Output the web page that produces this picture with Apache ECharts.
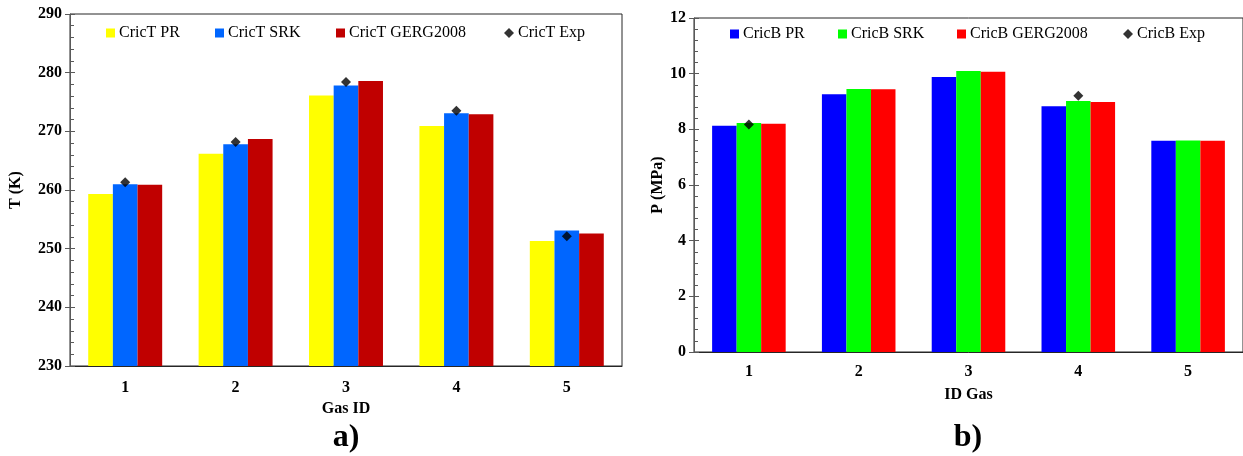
<!DOCTYPE html>
<html>
<head>
<meta charset="utf-8">
<script src="https://cdn.jsdelivr.net/npm/echarts@6/dist/echarts.min.js"></script>
<style>
html,body{margin:0;padding:0;background:#fff;}
#chart{width:1243px;height:456px;}
</style>
</head>
<body>
<div id="chart"></div>
<script>
var categories = ['1', '2', '3', '4', '5'];
var tPR   = [259.3, 266.2, 276.1, 270.9, 251.3];
var tSRK  = [261.0, 267.8, 277.8, 273.1, 253.1];
var tGERG = [260.9, 268.7, 278.6, 272.9, 252.6];
var tExp  = [261.3, 268.2, 278.4, 273.5, 252.1];
var pPR   = [8.13, 9.26, 9.88, 8.83, 7.59];
var pSRK  = [8.23, 9.45, 10.10, 9.02, 7.60];
var pGERG = [8.20, 9.44, 10.07, 8.98, 7.59];
var pExp  = [8.17, null, null, 9.21, null];

var FONT = '"Liberation Serif", "Times New Roman", serif';
var chart = echarts.init(document.getElementById('chart'));

function legendItem(name, left, top, icon) {
  return {
    data: [{name: name, icon: icon}],
    left: left, top: top, padding: 0,
    itemWidth: icon === 'diamond' ? 10 : 9, itemHeight: icon === 'diamond' ? 10 : 9, itemGap: 0,
    textStyle: {fontFamily: FONT, fontSize: 16, color: '#000', padding: [0, 0, 0, -1]},
    selectedMode: false
  };
}

function yAxisMain(gi, min, max, interval, name, nameGap) {
  return {
    type: 'value', gridIndex: gi, min: min, max: max, interval: interval, position: 'left',
    name: name, nameLocation: 'middle', nameGap: nameGap,
    nameTextStyle: {fontFamily: FONT, fontSize: 16, fontWeight: 'bold', color: '#000'},
    axisLine: {show: true, lineStyle: {color: '#595959', width: 1}},
    axisTick: {show: true, inside: true, length: 5, lineStyle: {color: '#595959'}},
    minorTick: {show: true, splitNumber: 5, length: 4, lineStyle: {color: '#595959'}},
    splitLine: {show: false},
    axisLabel: {fontFamily: FONT, fontSize: 16, fontWeight: 'bold', color: '#000', margin: 8}
  };
}
function yAxisOuter(gi, min, max, interval) {
  return {
    type: 'value', gridIndex: gi, min: min, max: max, interval: interval, position: 'left', offset: 0,
    axisLine: {show: false},
    axisTick: {show: true, inside: false, length: 5, lineStyle: {color: '#595959'}},
    splitLine: {show: false},
    axisLabel: {show: false}
  };
}
function xAxis(gi, name, nameGap, margin) {
  return {
    type: 'category', gridIndex: gi, data: categories,
    name: name, nameLocation: 'middle', nameGap: nameGap,
    nameTextStyle: {fontFamily: FONT, fontSize: 16, fontWeight: 'bold', color: '#000'},
    axisLine: {show: true, lineStyle: {color: '#262626', width: 1}},
    axisTick: {show: false},
    axisLabel: {fontFamily: FONT, fontSize: 16, fontWeight: 'bold', color: '#000', margin: margin}
  };
}
function bar(name, data, color, xi, yi) {
  return {
    name: name, type: 'bar', data: data, xAxisIndex: xi, yAxisIndex: yi,
    barGap: '0%', barCategoryGap: '33%',
    itemStyle: {color: color}
  };
}
function exp(name, data, xi, yi) {
  return {
    name: name, type: 'scatter', data: data, xAxisIndex: xi, yAxisIndex: yi,
    symbol: 'diamond', symbolSize: 10, itemStyle: {color: '#000'}, z: 5
  };
}

chart.setOption({
  animation: false,
  backgroundColor: '#fff',
  grid: [
    {left: 70, top: 14, width: 552, height: 352, show: true, borderColor: '#262626', borderWidth: 1, backgroundColor: 'transparent'},
    {left: 694, top: 18, width: 551, height: 334, show: true, borderColor: '#262626', borderWidth: 1, backgroundColor: 'transparent'}
  ],
  legend: [
    legendItem('CricT PR', 106, 25, 'rect'),
    legendItem('CricT SRK', 215, 25, 'rect'),
    legendItem('CricT GERG2008', 336, 25, 'rect'),
    legendItem('CricT Exp', 504, 25, 'diamond'),
    legendItem('CricB PR', 730, 26, 'rect'),
    legendItem('CricB SRK', 838, 26, 'rect'),
    legendItem('CricB GERG2008', 957, 26, 'rect'),
    legendItem('CricB Exp', 1123, 26, 'diamond')
  ],
  xAxis: [xAxis(0, 'Gas ID', 31, 14), xAxis(1, 'ID Gas', 35, 12)],
  yAxis: [
    yAxisMain(0, 230, 290, 10, 'T (K)', 46),
    yAxisOuter(0, 230, 290, 10),
    yAxisMain(1, 0, 12, 2, 'P (MPa)', 28),
    yAxisOuter(1, 0, 12, 2)
  ],
  series: [
    bar('CricT PR', tPR, '#FFFF00', 0, 0),
    bar('CricT SRK', tSRK, '#0066FF', 0, 0),
    bar('CricT GERG2008', tGERG, '#C00000', 0, 0),
    exp('CricT Exp', tExp, 0, 0),
    bar('CricB PR', pPR, '#0000FF', 1, 2),
    bar('CricB SRK', pSRK, '#00FF00', 1, 2),
    bar('CricB GERG2008', pGERG, '#FF0000', 1, 2),
    exp('CricB Exp', pExp, 1, 2)
  ],
  graphic: [
    {type: 'text', x: 346, y: 438, style: {text: 'a)', font: 'bold 32px ' + FONT, fill: '#000', align: 'center', verticalAlign: 'middle'}},
    {type: 'text', x: 968, y: 438, style: {text: 'b)', font: 'bold 32px ' + FONT, fill: '#000', align: 'center', verticalAlign: 'middle'}}
  ]
});
</script>
</body>
</html>
